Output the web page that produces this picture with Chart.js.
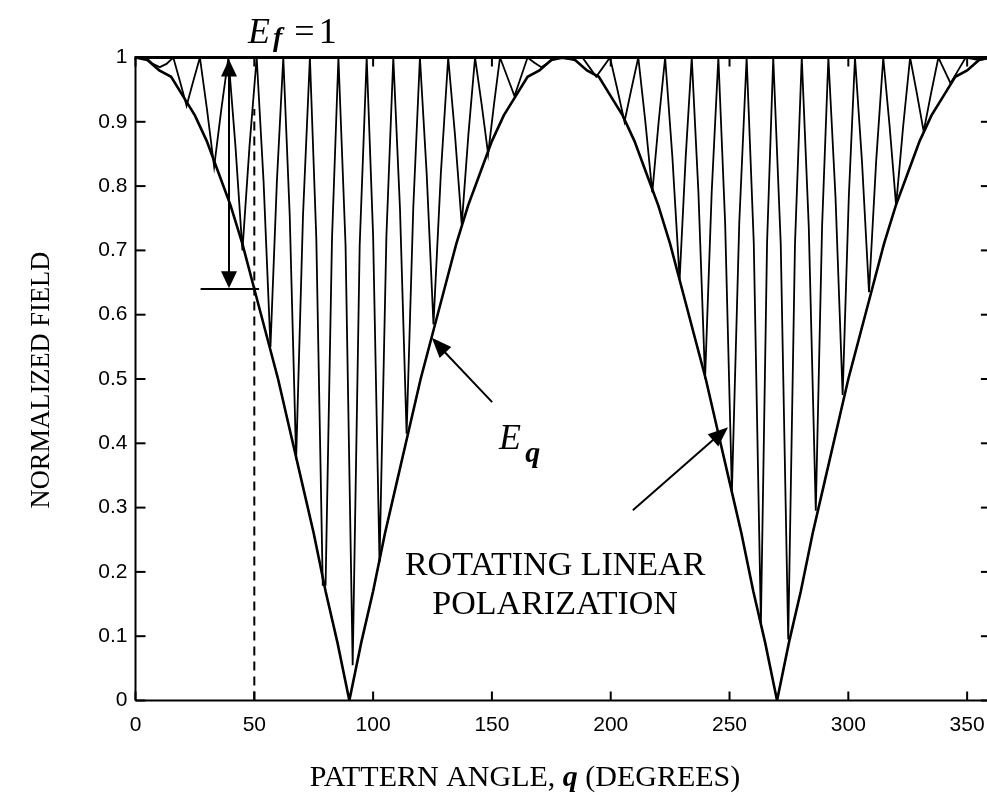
<!DOCTYPE html>
<html><head><meta charset="utf-8">
<script src="https://cdn.jsdelivr.net/npm/chart.js@4.4.1/dist/chart.umd.min.js"></script>
<style>
html,body{margin:0;padding:0;background:#fff;overflow:hidden;width:987px;height:805px}
#wrap{position:absolute;left:0;top:0;width:1000px;height:805px}
canvas{display:block}
</style>
</head><body><div id="wrap"><canvas id="c" width="1000" height="805" style="width:1000px;height:805px"></canvas></div>
<script>
// ---- data ----
const xTicks = [0, 50, 100, 150, 200, 250, 300, 350];
const yTicks = [0, 0.1, 0.2, 0.3, 0.4, 0.5, 0.6, 0.7, 0.8, 0.9, 1];

// E_theta envelope
const envAngles = [0,5,10,15,20,25,30,35,40,45,50,55,60,65,70,75,80,85,90,95,100,105,110,115,120,125,130,135,140,145,150,155,160,165,170,175,180,185,190,195,200,205,210,215,220,225,230,235,240,245,250,255,260,265,270,275,280,285,290,295,300,305,310,315,320,325,330,335,340,345,350,355,360];
const envValues = [1.00,0.996,0.98,0.97,0.94,0.91,0.87,0.82,0.77,0.71,0.64,0.57,0.50,0.42,0.34,0.26,0.17,0.09,0.00,0.09,0.17,0.26,0.34,0.42,0.50,0.57,0.64,0.71,0.77,0.82,0.87,0.91,0.94,0.97,0.98,0.996,1.00,0.996,0.98,0.97,0.94,0.91,0.87,0.82,0.77,0.71,0.64,0.57,0.50,0.42,0.34,0.26,0.17,0.09,0.00,0.09,0.17,0.26,0.34,0.42,0.50,0.57,0.64,0.71,0.77,0.82,0.87,0.91,0.94,0.97,0.98,0.996,1.00];

// rotating linear polarization: peaks, flanks and troughs
const rotAngles = [0,4.4,7.3,10.2,13.05,15.9,18.7,21.5,24.3,27.1,30.1,33.1,36.1,39.1,42.05,45.0,48.0,51.0,53.9,56.8,59.5,62.2,64.9,67.6,70.5,73.4,76.1,78.8,80.0,82.7,85.4,88.4,91.4,94.35,97.3,100.0,102.7,105.6,108.5,111.3,114.1,116.9,119.7,122.55,125.4,128.5,131.6,134.45,137.3,140.1,142.9,145.65,148.4,150.9,153.4,156.45,159.5,162.25,165.0,167.9,170.8,173.65,176.5,182.3,188.1,191.0,193.9,196.8,199.7,202.75,205.8,208.7,211.6,214.55,217.5,220.2,222.9,225.95,229.0,231.55,234.1,236.9,239.7,242.5,245.3,248.15,251.0,254.1,257.2,260.2,263.2,265.8,268.4,271.55,274.7,277.55,280.4,283.35,286.3,288.95,291.6,294.6,297.6,300.2,302.8,305.75,308.7,311.7,314.7,317.4,320.1,323.05,326.0,328.85,331.7,334.8,337.9,340.45,343.0,346.2,349.4,355.0,360];
const rotValues = [1.00,1.00,0.99,0.985,0.99,1.00,0.963,0.925,0.963,1.00,0.919,0.83,0.919,1.00,0.863,0.70,0.863,1.00,0.807,0.55,0.807,1.00,0.755,0.375,0.755,1.00,0.718,0.18,0.18,0.718,1.00,0.708,0.055,0.708,1.00,0.723,0.215,0.723,1.00,0.766,0.415,0.766,1.00,0.819,0.585,0.819,1.00,0.88,0.74,0.88,1.00,0.928,0.85,0.928,1.00,0.97,0.94,0.97,1.00,0.992,0.985,0.992,1.00,0.998,1.00,0.985,0.97,0.985,1.00,0.951,0.90,0.951,1.00,0.901,0.79,0.901,1.00,0.845,0.655,0.845,1.00,0.791,0.50,0.791,1.00,0.743,0.325,0.743,1.00,0.712,0.12,0.712,1.00,0.71,0.095,0.71,1.00,0.737,0.295,0.737,1.00,0.783,0.475,0.783,1.00,0.838,0.635,0.838,1.00,0.892,0.77,0.892,1.00,0.944,0.885,0.944,1.00,0.98,0.96,0.98,1.00,0.996,1.00];

const xTitleParts = ['PATTERN ANGLE, ', 'q', ' (DEGREES)'];
const yTitle = 'NORMALIZED FIELD';
const rotLabel = ['ROTATING LINEAR', 'POLARIZATION'];

// ---- chart ----
const toXY = (xs, ys) => xs.map((v, i) => ({x: v, y: ys[i]}));

function line(ctx, x1, y1, x2, y2) { ctx.beginPath(); ctx.moveTo(x1, y1); ctx.lineTo(x2, y2); ctx.stroke(); }
function head(ctx, tx, ty, fx, fy, len, w) {
  const a = Math.atan2(ty - fy, tx - fx);
  const bx = tx - len * Math.cos(a), by = ty - len * Math.sin(a);
  const nx = -Math.sin(a) * w / 2, ny = Math.cos(a) * w / 2;
  ctx.beginPath(); ctx.moveTo(tx, ty); ctx.lineTo(bx + nx, by + ny); ctx.lineTo(bx - nx, by - ny); ctx.closePath(); ctx.fill();
}

const frame = {
  id: 'frame',
  afterDatasetsDraw(chart) {
    const {ctx, chartArea: a, scales: {x, y}} = chart;
    ctx.save();
    ctx.strokeStyle = '#000'; ctx.fillStyle = '#000'; ctx.lineCap = 'butt';
    ctx.lineWidth = 2;
    line(ctx, a.left, a.bottom, a.right, a.bottom);
    line(ctx, a.left, a.top, a.left, a.bottom);
    line(ctx, a.right, a.top, a.right, a.bottom);
    ctx.lineWidth = 3;
    line(ctx, a.left - 1, a.top, a.right, a.top);
    ctx.lineWidth = 2;
    xTicks.forEach(v => { const p = x.getPixelForValue(v); line(ctx, p, a.bottom, p, a.bottom - 9); line(ctx, p, a.top, p, a.top + 9); });
    yTicks.forEach(v => { const p = y.getPixelForValue(v); line(ctx, a.left, p, a.left + 10, p); line(ctx, a.right, p, a.right - 10, p); });

    const X = v => x.getPixelForValue(v), Y = v => y.getPixelForValue(v);
    // double arrow + marker lines
    ctx.lineWidth = 2;
    line(ctx, X(39.35), Y(0.99), X(39.35), Y(0.645));
    head(ctx, X(39.35), Y(0.997), X(39.35), Y(0.8), 17, 16);
    head(ctx, X(39.35), Y(0.641), X(39.35), Y(0.8), 17, 16);
    line(ctx, X(27.4), Y(0.64), X(52.0), Y(0.64));
    ctx.setLineDash([9, 6]);
    line(ctx, X(50), Y(0), X(50), Y(0.92));
    ctx.setLineDash([]);
    // arrow to E_theta
    line(ctx, X(150.1), Y(0.464), X(126), Y(0.558));
    head(ctx, X(124.7), Y(0.564), X(150.1), Y(0.464), 20, 16);
    // arrow to rotating curve
    line(ctx, X(209.3), Y(0.296), X(247), Y(0.418));
    head(ctx, X(249.4), Y(0.425), X(209.3), Y(0.296), 20, 16);

    // texts
    ctx.textBaseline = 'alphabetic';
    ctx.textAlign = 'left';
    ctx.font = "italic 36px 'Liberation Serif'";
    ctx.fillText('E', X(47.3), Y(1.0226));
    ctx.font = "bold italic 28px 'Liberation Serif'";
    ctx.fillText('f', X(57.9), Y(1.018));
    ctx.font = "36px 'Liberation Serif'";
    ctx.fillText('=', X(66.8), Y(1.0226));
    ctx.fillText('1', X(77.1), Y(1.0226));

    ctx.font = "italic 36px 'Liberation Serif'";
    ctx.fillText('E', X(153.0), Y(0.391));
    ctx.font = "bold italic 30px 'Liberation Serif'";
    ctx.fillText('q', X(164.0), Y(0.371));

    ctx.textAlign = 'center';
    ctx.font = "34px 'Liberation Serif'";
    ctx.fillText(rotLabel[0], X(176.6), Y(0.195));
    ctx.fillText(rotLabel[1], X(176.6), Y(0.134));

    // axis titles
    const fN = "30px 'Liberation Serif'", fB = "bold italic 30px 'Liberation Serif'";
    const fonts = [fN, fB, fN];
    let w = 0; xTitleParts.forEach((t, i) => { ctx.font = fonts[i]; w += ctx.measureText(t).width; });
    let cx = 525 - w / 2;
    ctx.textAlign = 'left';
    xTitleParts.forEach((t, i) => { ctx.font = fonts[i]; ctx.fillText(t, cx, 786); cx += ctx.measureText(t).width; });
    ctx.save();
    ctx.translate(49, 380); ctx.rotate(-Math.PI / 2);
    ctx.textAlign = 'center'; ctx.font = "26.5px 'Liberation Serif'";
    ctx.fillText(yTitle, 0, 0);
    ctx.restore();
    ctx.restore();
  }
};

new Chart(document.getElementById('c'), {
  type: 'line',
  data: {
    datasets: [
      {data: toXY(envAngles, envValues), borderColor: '#000', borderWidth: 2.6, pointRadius: 0, tension: 0, fill: false},
      {data: toXY(rotAngles, rotValues), borderColor: '#000', borderWidth: 1.8, pointRadius: 0, tension: 0, fill: false}
    ]
  },
  options: {
    responsive: false, animation: false, devicePixelRatio: 1,
    layout: {padding: {left: 0, right: 9.1, top: 57.5, bottom: 0}},
    plugins: {legend: {display: false}, tooltip: {enabled: false}},
    scales: {
      x: {
        type: 'linear', min: 0, max: 360,
        grid: {display: false, drawTicks: false}, border: {display: false},
        afterBuildTicks: s => { s.ticks = xTicks.map(v => ({value: v})); },
        afterFit: s => { s.height = 104.5; },
        ticks: {autoSkip: false, maxRotation: 0, padding: 12, color: '#000', font: {family: "'Liberation Sans'", size: 21}}
      },
      y: {
        type: 'linear', min: 0, max: 1,
        grid: {display: false, drawTicks: false}, border: {display: false},
        afterBuildTicks: s => { s.ticks = yTicks.map(v => ({value: v})); },
        afterFit: s => { s.width = 135.5; },
        ticks: {autoSkip: false, padding: 8, color: '#000', font: {family: "'Liberation Sans'", size: 21},
          callback: v => String(+Number(v).toFixed(1))}
      }
    }
  },
  plugins: [frame]
});
</script>
</body></html>
